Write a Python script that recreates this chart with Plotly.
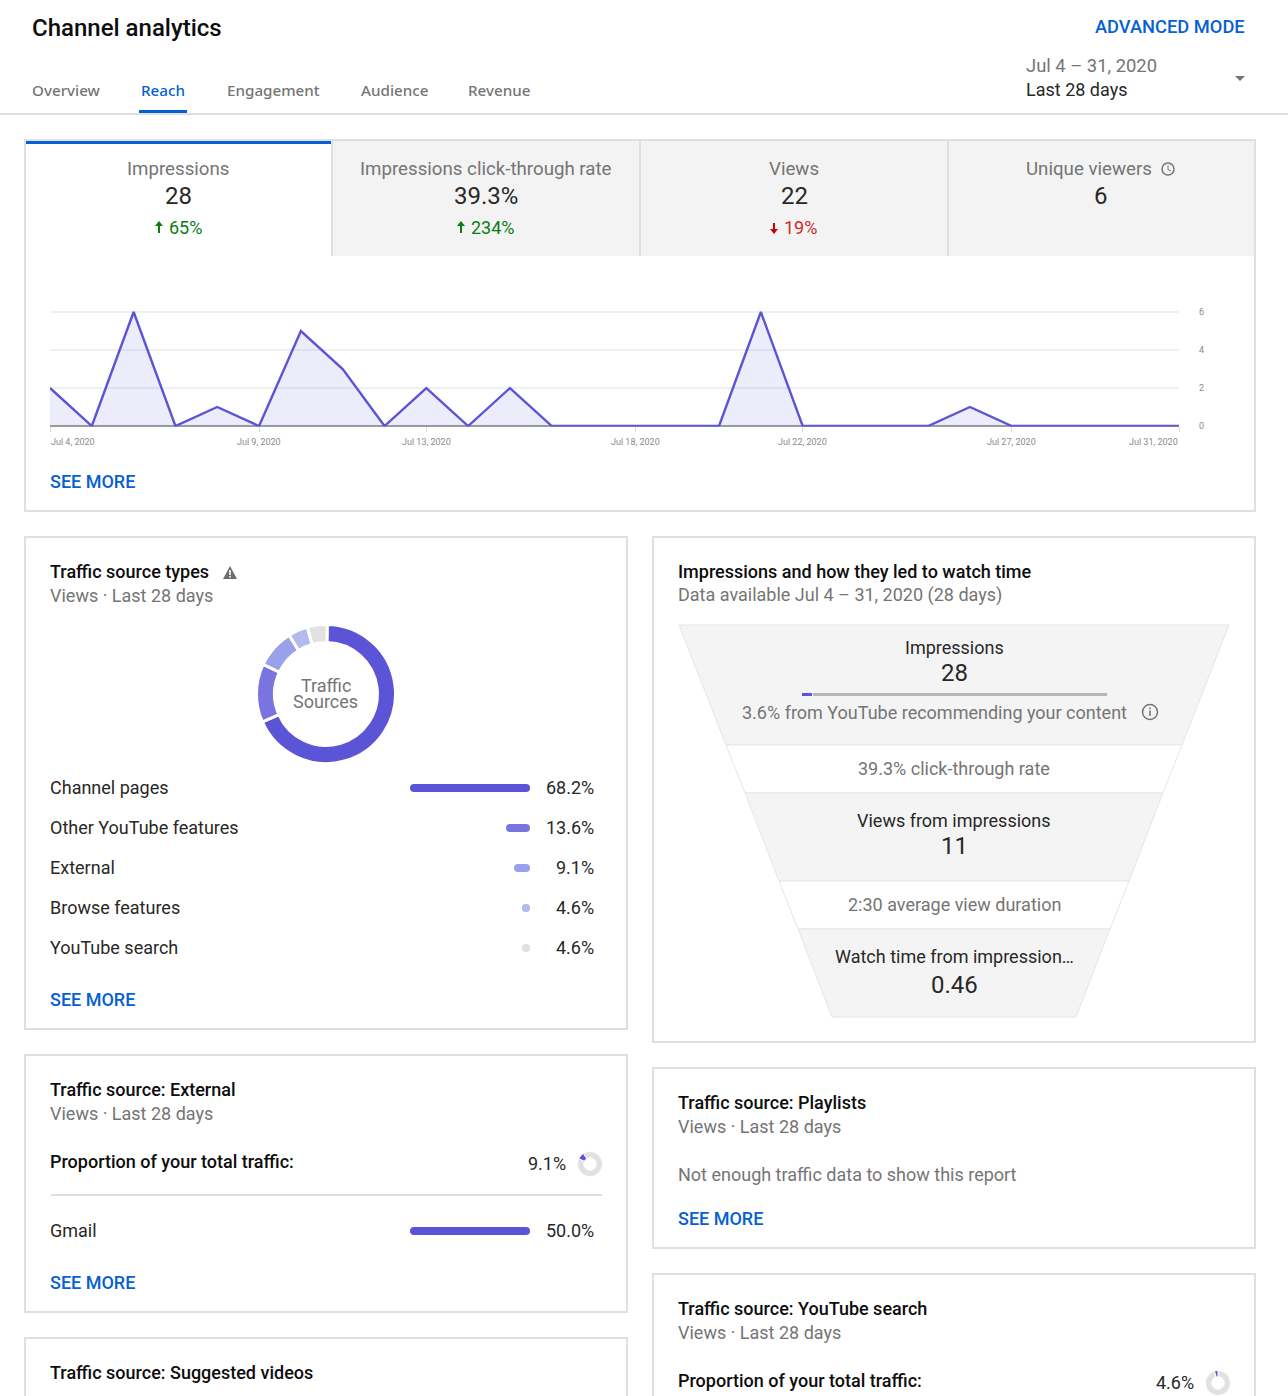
import plotly.graph_objects as go

W, H = 1288, 1396

dates = ["2020-07-%02d" % d for d in range(4, 32)]
impressions = [2, 0, 6, 0, 1, 0, 5, 3, 0, 2, 0, 2, 0, 0, 0, 0, 0, 6, 0, 0, 0, 0, 1, 0, 0, 0, 0, 0]
date_ticks = ["2020-07-04", "2020-07-09", "2020-07-13", "2020-07-18", "2020-07-22", "2020-07-27", "2020-07-31"]
date_labels = ["Jul 4, 2020", "Jul 9, 2020", "Jul 13, 2020", "Jul 18, 2020", "Jul 22, 2020", "Jul 27, 2020", "Jul 31, 2020"]
y_ticks = [0, 2, 4, 6]

tab_names = ["Overview", "Reach", "Engagement", "Audience", "Revenue"]
metric_names = ["Impressions", "Impressions click-through rate", "Views", "Unique viewers"]
metric_values = ["28", "39.3%", "22", "6"]
metric_deltas = ["65%", "234%", "19%", ""]

source_names = ["Channel pages", "Other YouTube features", "External", "Browse features", "YouTube search"]
source_shares = [68.2, 13.6, 9.1, 4.6, 4.6]
source_colors = ["#5c54d6", "#7a75de", "#98a1ea", "#b4baed", "#e1e1e1"]

external_names = ["Gmail"]
external_shares = [50.0]
external_total = 9.1
search_total = 4.6
recommended_share = 3.6

BLUE = "#065fd4"
PURPLE = "#5c54d6"
TEXT = "#282828"
GREY = "#757575"
BORDER = "#e0e0e0"
PANEL = "#f4f4f4"
GREEN = "#0b7d13"
FONT = "Roboto"
SHIFT = {"left": -1, "center": 0, "right": 0.5}

annotations = []
shapes = []


def text(x, y, s, size=18, color=TEXT, anchor="left", weight=400, family=FONT):
    # small text sits a pixel low when centred on its box
    yshift = 1 if size < 20 else 0
    annotations.append(dict(x=x, y=y, xref="x", yref="y", text=s, showarrow=False, xanchor=anchor,
                            yanchor="middle", borderpad=0, xshift=SHIFT[anchor], yshift=yshift,
                            font=dict(size=size, color=color, family=family, weight=weight)))


def rect(x0, y0, x1, y1, fill="rgba(0,0,0,0)", line=None, width=2):
    shapes.append(dict(type="rect", xref="x", yref="y", x0=x0, y0=y0, x1=x1, y1=y1, fillcolor=fill,
                       line=dict(color=line or "rgba(0,0,0,0)", width=width if line else 0), layer="below"))


def path(d, fill="rgba(0,0,0,0)", line=None, width=1):
    shapes.append(dict(type="path", xref="x", yref="y", path=d, fillcolor=fill,
                       line=dict(color=line or "rgba(0,0,0,0)", width=width if line else 0), layer="below"))


def circle(cx, cy, r, fill="rgba(0,0,0,0)", line=None, width=1.5):
    shapes.append(dict(type="circle", xref="x", yref="y", x0=cx - r, y0=cy - r, x1=cx + r, y1=cy + r,
                       fillcolor=fill, line=dict(color=line or "rgba(0,0,0,0)", width=width if line else 0),
                       layer="below"))


# header
text(32, 28, "Channel analytics", size=24, color="#0d0d0d", weight=500)
tab_x = [32, 141, 227, 361, 468]
for name, x in zip(tab_names, tab_x):
    text(x, 91, name, size=15.2, color=BLUE if name == "Reach" else GREY, weight=500, family="Noto Sans")
text(1245, 27, "ADVANCED MODE", size=18.3, color=BLUE, anchor="right", weight=500)
text(1026, 66, "Jul 4 – 31, 2020", size=18.4, color=GREY)
text(1026, 90, "Last 28 days", size=18)
path("M1235 76 L1245 76 L1240 81 Z", fill=GREY)
rect(0, 113, W, 115, fill=BORDER)
rect(139, 110, 187, 113, fill=BLUE)

# cards
rect(25, 140, 1255, 511, line=BORDER)
rect(25, 537, 627, 1029, line=BORDER)
rect(653, 537, 1255, 1042, line=BORDER)
rect(25, 1055, 627, 1312, line=BORDER)
rect(25, 1338, 627, 1430, line=BORDER)
rect(653, 1068, 1255, 1248, line=BORDER)
rect(653, 1274, 1255, 1430, line=BORDER)

# metric tabs
rect(332, 141, 1254, 256, fill="#f3f3f3")
rect(26, 141, 332, 144, fill=BLUE)
for x in [332, 640, 948]:
    rect(x - 1, 141, x + 1, 256, fill=BORDER)
metric_x = [178, 486, 794, 1101]
metric_label_x = [178, 486, 794, 1089]
for i in range(4):
    text(metric_label_x[i], 170, metric_names[i], size=18.7, color=GREY, anchor="center")
    text(metric_x[i], 196, metric_values[i], size=24, anchor="center")
text(185, 228, metric_deltas[0], color=GREEN, anchor="center")
text(493, 228, metric_deltas[1], color=GREEN, anchor="center")
text(800, 228, metric_deltas[2], color="#cc2a2a", anchor="center")
for ax, color, up in [(159, GREEN, True), (461, GREEN, True), (774, "#cc0000", False)]:
    if up:
        path(f"M{ax-4} 226 L{ax} 221 L{ax+4} 226 Z", fill=color)
        rect(ax - 1, 225, ax + 1, 233, fill=color)
    else:
        path(f"M{ax-4} 229 L{ax} 234 L{ax+4} 229 Z", fill=color)
        rect(ax - 1, 223, ax + 1, 230, fill=color)
circle(1168, 169, 6, line=GREY)
path("M1168 165.5 L1168 169.5 L1171 171", line=GREY, width=1)

text(50, 482, "SEE MORE", color=BLUE, weight=500)

# traffic source types card
text(50, 572, "Traffic source types", weight=500, color="#0d0d0d")
text(50, 596, "Views · Last 28 days", color=GREY)
path("M223 579 L230 566 L237 579 Z", fill="#6e6e6e")
rect(229.2, 570, 230.8, 575, fill="#ffffff")
rect(229.2, 576, 230.8, 577.6, fill="#ffffff")
text(325.5, 686.5, "Traffic", size=18, color=GREY, anchor="center")
text(325.5, 702.5, "Sources", size=18, color=GREY, anchor="center")
for i, name in enumerate(source_names):
    y = 788 + i * 40
    text(50, y, name)
    text(594, y, "%.1f%%" % source_shares[i], anchor="right")
text(50, 1000, "SEE MORE", color=BLUE, weight=500)

# funnel card
text(678, 572, "Impressions and how they led to watch time", weight=500, color="#0d0d0d")
text(678, 596, "Data available Jul 4 – 31, 2020 (28 days)", color=GREY)
path("M679 625 L1229 625 L1182 745 L726 745 Z", fill=PANEL, line="#e6e6e6")
path("M726 745 L1182 745 L1163 793 L745 793 Z", fill="#ffffff", line="#e6e6e6")
path("M745 793 L1163 793 L1129 881 L779 881 Z", fill=PANEL, line="#e6e6e6")
path("M779 881 L1129 881 L1110 929 L798 929 Z", fill="#ffffff", line="#e6e6e6")
path("M798 929 L1110 929 L1076 1017 L832 1017 Z", fill=PANEL, line="#e6e6e6")
text(954, 648, "Impressions", anchor="center")
text(954, 673, "28", size=24, anchor="center")
text(934, 713, "3.6% from YouTube recommending your content", color=GREY, anchor="center")
circle(1150, 712, 7.5, line=GREY)
rect(1149.2, 710.5, 1150.8, 716, fill=GREY)
rect(1149.2, 707.5, 1150.8, 709.2, fill=GREY)
text(954, 769, "39.3% click-through rate", color=GREY, anchor="center")
text(954, 821, "Views from impressions", anchor="center")
text(954, 846, "11", size=24, anchor="center")
text(954, 905, "2:30 average view duration", color=GREY, anchor="center")
text(954, 957, "Watch time from impression…", anchor="center")
text(954, 985, "0.46", size=24, anchor="center")

# external card
text(50, 1090, "Traffic source: External", weight=500, color="#0d0d0d")
text(50, 1114, "Views · Last 28 days", color=GREY)
text(50, 1162, "Proportion of your total traffic:", weight=500, color="#0d0d0d")
text(566, 1164, "%.1f%%" % external_total, anchor="right")
rect(51, 1194, 602, 1196, fill=BORDER)
text(50, 1231, external_names[0])
text(594, 1231, "%.1f%%" % external_shares[0], anchor="right")
text(50, 1283, "SEE MORE", color=BLUE, weight=500)

text(50, 1373, "Traffic source: Suggested videos", weight=500, color="#0d0d0d")
text(50, 1397, "Views · Last 28 days", color=GREY)

# playlists card
text(678, 1103, "Traffic source: Playlists", weight=500, color="#0d0d0d")
text(678, 1127, "Views · Last 28 days", color=GREY)
text(678, 1175, "Not enough traffic data to show this report", color=GREY)
text(678, 1219, "SEE MORE", color=BLUE, weight=500)

# youtube search card
text(678, 1309, "Traffic source: YouTube search", weight=500, color="#0d0d0d")
text(678, 1333, "Views · Last 28 days", color=GREY)
text(678, 1381, "Proportion of your total traffic:", weight=500, color="#0d0d0d")
text(1194, 1383, "%.1f%%" % search_total, anchor="right")


def dom_x(a, b):
    return [a / W, b / W]


def dom_y(top, bottom):
    return [1 - bottom / H, 1 - top / H]


def pill(fig, value, name, color, scale_max, xa, ya):
    # rounded bar: thick line between two round markers, 4px short of each end
    inset = 4 * scale_max / 120
    fig.add_trace(go.Scatter(x=[inset, value - inset], y=[name, name], mode="lines+markers", xaxis=xa, yaxis=ya,
                             line=dict(color=color, width=8), marker=dict(color=color, size=8, line=dict(width=0)),
                             hovertext=[f"{name}: {value}%"] * 2, hoverinfo="text"))


fig = go.Figure()

# line chart
fig.add_trace(go.Scatter(x=dates, y=impressions, mode="lines", fill="tozeroy", fillcolor="rgba(92,84,214,0.11)",
                         line=dict(color=PURPLE, width=2.4), cliponaxis=False, xaxis="x2", yaxis="y2",
                         hoverinfo="x+y"))
for i, label in enumerate(date_labels):
    anchor = "left" if i == 0 else "right" if i == len(date_labels) - 1 else "center"
    annotations.append(dict(x=date_ticks[i], y=442, xref="x2", yref="y", text=label, showarrow=False,
                            xanchor=anchor, yanchor="middle", borderpad=0,
                            font=dict(size=9, color="#8a8a8a", family=FONT)))

# bars
for name, share, color in zip(source_names, source_shares, source_colors):
    pill(fig, share, name, color, source_shares[0], "x3", "y3")
pill(fig, external_shares[0], external_names[0], PURPLE, external_shares[0], "x4", "y4")
fig.add_trace(go.Bar(x=[recommended_share], y=["share"], orientation="h", width=1, xaxis="x5", yaxis="y5",
                     marker=dict(color=PURPLE, line=dict(color=PANEL, width=1))))
fig.add_trace(go.Bar(x=[100 - recommended_share], y=["share"], orientation="h", width=1, xaxis="x5", yaxis="y5",
                     marker=dict(color="#b5b5b5", line=dict(color=PANEL, width=1))))

# donuts
fig.add_trace(go.Pie(values=source_shares, labels=source_names, sort=False, direction="clockwise", rotation=1,
                     hole=0.74, textinfo="none", showlegend=False,
                     marker=dict(colors=source_colors, line=dict(color="#ffffff", width=3)),
                     domain=dict(x=dom_x(256.5, 395.5), y=dom_y(624.5, 763.5))))
fig.add_trace(go.Pie(values=[100 - external_total, external_total], sort=False, direction="clockwise", rotation=-32,
                     hole=0.5, textinfo="none", showlegend=False,
                     marker=dict(colors=["#e1e1e1", PURPLE], line=dict(color="#ffffff", width=1)),
                     domain=dict(x=dom_x(577.5, 602.5), y=dom_y(1151.5, 1176.5))))
fig.add_trace(go.Pie(values=[100 - search_total, search_total], sort=False, direction="clockwise", rotation=0,
                     hole=0.5, textinfo="none", showlegend=False,
                     marker=dict(colors=["#e1e1e1", PURPLE], line=dict(color="#ffffff", width=1)),
                     domain=dict(x=dom_x(1205.5, 1230.5), y=dom_y(1370.5, 1395.5))))

hidden = dict(visible=False, fixedrange=True)
fig.update_layout(
    width=W, height=H, margin=dict(l=0, r=0, t=0, b=0, pad=0, autoexpand=False), autosize=False, showlegend=False,
    paper_bgcolor="#ffffff", plot_bgcolor="rgba(0,0,0,0)", barmode="stack",
    font=dict(family=FONT, color=TEXT),
    annotations=annotations, shapes=shapes,
    xaxis=dict(hidden, domain=[0, 1], range=[0, W]),
    yaxis=dict(hidden, domain=[0, 1], range=[H, 0]),
    xaxis2=dict(domain=dom_x(50, 1179), anchor="y2", type="date", range=["2020-07-04", "2020-07-31"],
                tickvals=date_ticks, showticklabels=False, showgrid=False, ticks="outside", ticklen=5,
                tickcolor="#dddddd", showline=False, zeroline=False),
    yaxis2=dict(domain=dom_y(309.7, 426.4), anchor="x2", side="right", range=[-0.02, 6.12], tickvals=y_ticks,
                gridcolor="#f0f0f0", gridwidth=2, zeroline=True, zerolinecolor="#9e9e9e", zerolinewidth=2,
                showline=False, ticks="", ticklabelstandoff=19,
                tickfont=dict(size=9, color="#8a8a8a", family=FONT)),
    xaxis3=dict(hidden, domain=dom_x(410, 530), anchor="y3", range=[source_shares[0], 0]),
    yaxis3=dict(hidden, domain=dom_y(768, 968), anchor="x3", type="category", categoryarray=source_names,
                range=[4.5, -0.5]),
    xaxis4=dict(hidden, domain=dom_x(410, 530), anchor="y4", range=[external_shares[0], 0]),
    yaxis4=dict(hidden, domain=dom_y(1211, 1251), anchor="x4", type="category", range=[-0.5, 0.5]),
    xaxis5=dict(hidden, domain=dom_x(801, 1107), anchor="y5", range=[0, 100]),
    yaxis5=dict(hidden, domain=dom_y(692, 696), anchor="x5", type="category", range=[-0.5, 0.5]),
)

fig.write_html("out.html", post_script="document.body.style.margin='0';", config={"displayModeBar": False})
